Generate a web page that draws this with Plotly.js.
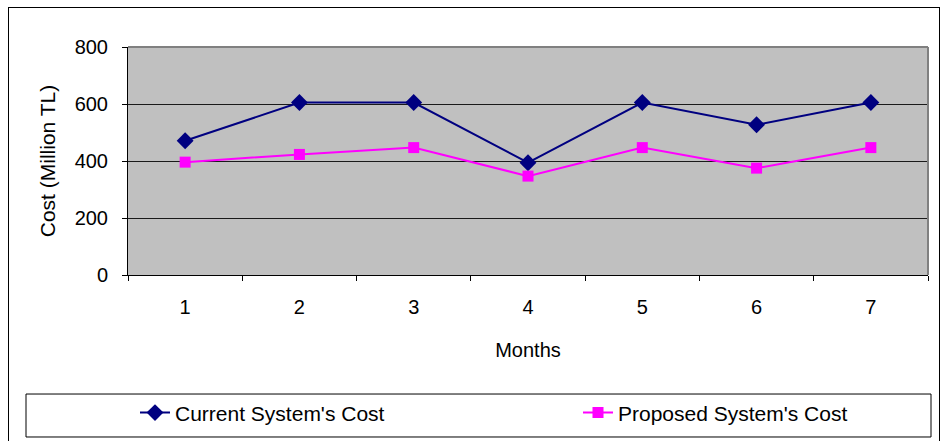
<!DOCTYPE html>
<html>
<head>
<meta charset="utf-8">
<script src="https://cdn.plot.ly/plotly-3.0.1.min.js"></script>
<style>
  html, body { margin: 0; padding: 0; background: #fff; }
  #chart { position: absolute; left: 0; top: 0; width: 942px; height: 441px; }
  #frame { position: absolute; left: 8px; top: 7px; width: 932px; height: 440px; border: 1px solid #000; box-sizing: border-box; pointer-events: none; }
</style>
</head>
<body>
<div id="chart"></div>
<div id="frame"></div>
<script>
const months = ['1', '2', '3', '4', '5', '6', '7'];
const currentCost = [471, 605, 605, 394, 605, 527, 605];
const proposedCost = [396, 423, 447, 347, 447, 375, 447];
const seriesNames = ["Current System's Cost", "Proposed System's Cost"];
const yTicks = [0, 200, 400, 600, 800];

const FONT = 'Liberation Sans, Arial, sans-serif';

const traces = [
  {
    x: months, y: currentCost, name: seriesNames[0], type: 'scatter', mode: 'lines+markers',
    legend: 'legend',
    line: { color: '#000080', width: 2 },
    marker: { symbol: 'diamond', size: 13, color: '#000080' }
  },
  {
    x: months, y: proposedCost, name: seriesNames[1], type: 'scatter', mode: 'lines+markers',
    legend: 'legend2',
    line: { color: '#FF00FF', width: 2 },
    marker: { symbol: 'square', size: 11, color: '#FF00FF' }
  }
];

const legendBase = {
  orientation: 'h', xanchor: 'left', y: -0.605, yanchor: 'middle',
  bgcolor: 'rgba(0,0,0,0)', borderwidth: 0,
  font: { family: FONT, size: 21, color: '#000' }
};

const layout = {
  width: 942, height: 441,
  margin: { l: 128, r: 14, t: 47, b: 166, autoexpand: false },
  paper_bgcolor: '#ffffff',
  plot_bgcolor: '#C0C0C0',
  font: { family: FONT, size: 20, color: '#000' },
  showlegend: true,
  xaxis: {
    type: 'category', range: [-0.5, 6.5], tickson: 'boundaries',
    showline: true, linecolor: '#000', linewidth: 1,
    ticks: 'outside', ticklen: 5, tickcolor: '#000',
    showgrid: false, zeroline: false,
    ticklabelstandoff: 14,
    tickfont: { family: FONT, size: 20, color: '#000' },
    title: { text: 'Months', font: { family: FONT, size: 20, color: '#000' }, standoff: 25 }
  },
  yaxis: {
    range: [0, 800], tickvals: yTicks,
    showline: true, linecolor: '#000', linewidth: 1,
    ticks: 'outside', ticklen: 5, tickcolor: '#000',
    showgrid: true, gridcolor: '#1a1a1a', gridwidth: 1, zeroline: false,
    ticklabelstandoff: 10,
    tickfont: { family: FONT, size: 20, color: '#000' },
    title: { text: 'Cost (Million TL)', font: { family: FONT, size: 21, color: '#000' }, standoff: 13 }
  },
  legend: Object.assign({}, legendBase, { x: 0.00875 }),
  legend2: Object.assign({}, legendBase, { x: 0.5625 }),
  shapes: [
    { type: 'line', xref: 'paper', yref: 'paper', x0: 0, x1: 1, y0: 1, y1: 1, line: { color: '#808080', width: 2 }, layer: 'above' },
    { type: 'line', xref: 'paper', yref: 'paper', x0: 1, x1: 1, y0: 0, y1: 1, line: { color: '#808080', width: 2 }, layer: 'above' },
    { type: 'rect', xref: 'paper', yref: 'paper', x0: -0.1275, x1: 1.00375, y0: -0.7105, y1: -0.522, line: { color: '#000', width: 1 }, fillcolor: 'rgba(0,0,0,0)' }
  ]
};

Plotly.newPlot('chart', traces, layout, { staticPlot: true, displayModeBar: false });
</script>
</body>
</html>
